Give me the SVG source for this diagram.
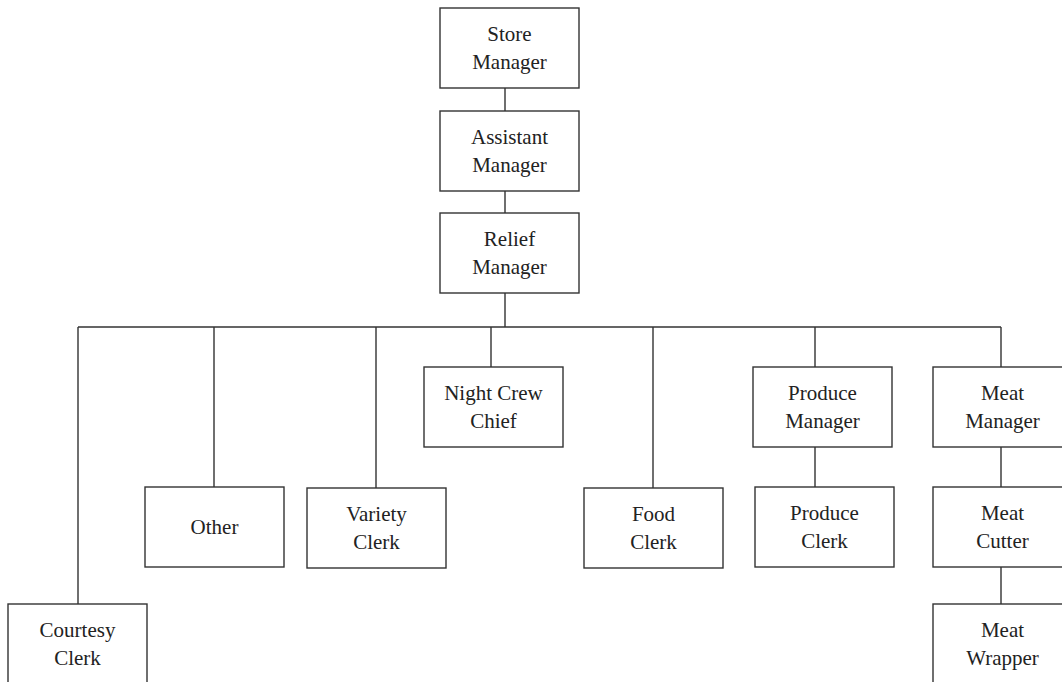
<svg xmlns="http://www.w3.org/2000/svg" width="1062" height="682" viewBox="0 0 1062 682">
<style>
.box{fill:#fff;stroke:#333;stroke-width:1.4}
.ln{stroke:#333;stroke-width:1.4;fill:none}
text{font-family:"Liberation Serif","Times New Roman",serif;font-size:21px;fill:#222;text-anchor:middle}
</style>
<rect width="1062" height="682" fill="#fff"/>
<g id="connectors">
<path class="ln" d="M505 88V111M505 191V213M505 293V327M78 327H1001M78 327V604M214 327V487M376 327V488M491 327V367M653 327V488M815 327V367M1001 327V367M815 447V487M1001 447V487M1001 567V604"/>
</g>
<g id="store-manager"><rect class="box" x="440" y="8" width="139" height="80"/><text x="509.5" y="41">Store</text><text x="509.5" y="69">Manager</text></g>
<g id="assistant-manager"><rect class="box" x="440" y="111" width="139" height="80"/><text x="509.5" y="144">Assistant</text><text x="509.5" y="172">Manager</text></g>
<g id="relief-manager"><rect class="box" x="440" y="213" width="139" height="80"/><text x="509.5" y="246">Relief</text><text x="509.5" y="274">Manager</text></g>
<g id="night-crew-chief"><rect class="box" x="424" y="367" width="139" height="80"/><text x="493.5" y="400">Night Crew</text><text x="493.5" y="428">Chief</text></g>
<g id="produce-manager"><rect class="box" x="753" y="367" width="139" height="80"/><text x="822.5" y="400">Produce</text><text x="822.5" y="428">Manager</text></g>
<g id="meat-manager"><rect class="box" x="933" y="367" width="139" height="80"/><text x="1002.5" y="400">Meat</text><text x="1002.5" y="428">Manager</text></g>
<g id="other"><rect class="box" x="145" y="487" width="139" height="80"/><text x="214.5" y="534">Other</text></g>
<g id="variety-clerk"><rect class="box" x="307" y="488" width="139" height="80"/><text x="376.5" y="521">Variety</text><text x="376.5" y="549">Clerk</text></g>
<g id="food-clerk"><rect class="box" x="584" y="488" width="139" height="80"/><text x="653.5" y="521">Food</text><text x="653.5" y="549">Clerk</text></g>
<g id="produce-clerk"><rect class="box" x="755" y="487" width="139" height="80"/><text x="824.5" y="520">Produce</text><text x="824.5" y="548">Clerk</text></g>
<g id="meat-cutter"><rect class="box" x="933" y="487" width="139" height="80"/><text x="1002.5" y="520">Meat</text><text x="1002.5" y="548">Cutter</text></g>
<g id="courtesy-clerk"><rect class="box" x="8" y="604" width="139" height="90"/><text x="77.5" y="637">Courtesy</text><text x="77.5" y="665">Clerk</text></g>
<g id="meat-wrapper"><rect class="box" x="933" y="604" width="139" height="90"/><text x="1002.5" y="637">Meat</text><text x="1002.5" y="665">Wrapper</text></g>
</svg>
